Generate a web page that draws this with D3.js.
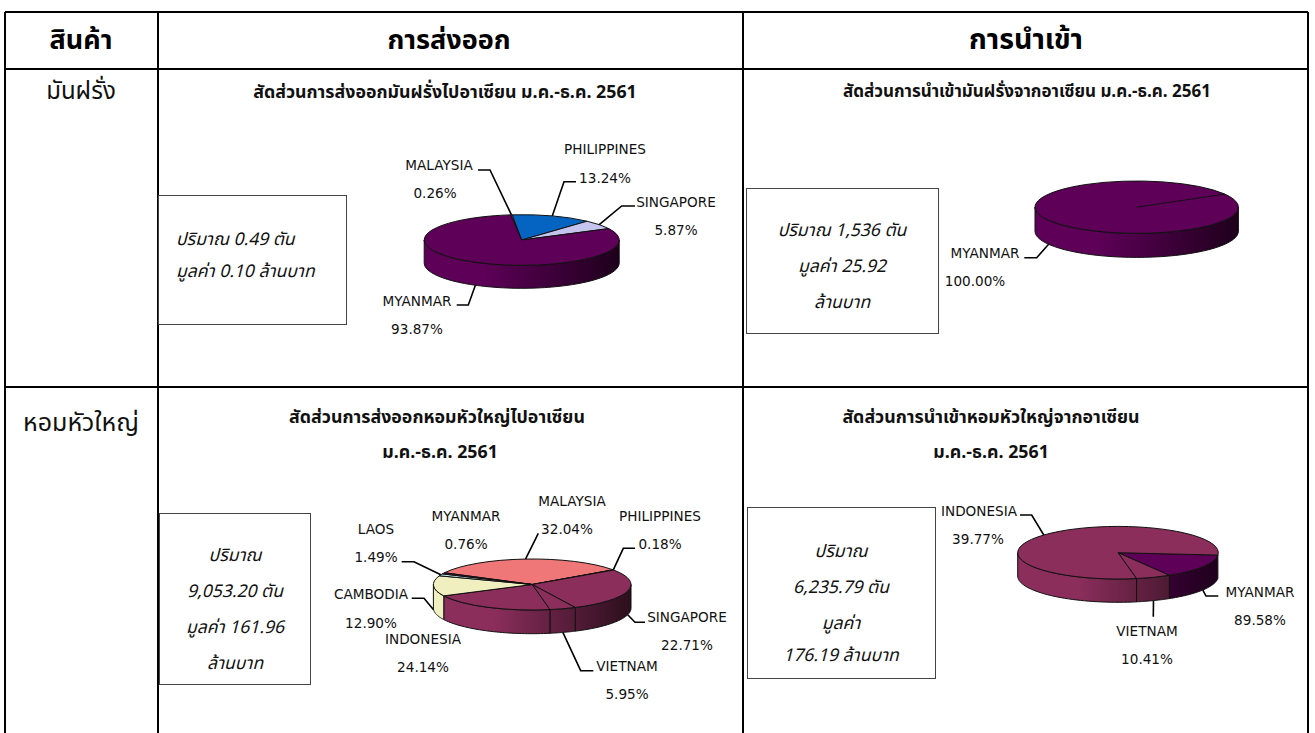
<!DOCTYPE html>
<html>
<head>
<meta charset="utf-8">
<script src="https://cdn.jsdelivr.net/npm/d3@7"></script>
<style>
  html, body { margin: 0; background: #fff; overflow: hidden; }
  text { font-family: Tahoma, "Noto Sans Thai", "Noto Sans", "DejaVu Sans", sans-serif; fill: #111; }
  .head { font-size: 27px; font-weight: bold; fill: #000; }
  .head-wide { font-size: 28.5px; font-weight: bold; fill: #000; }
  .item { font-size: 24px; }
  .item-wide { font-size: 25px; }
  .title { font-size: 17.8px; font-weight: bold; }
  .title-narrow { font-size: 17px; font-weight: bold; }
  .note { font-size: 17.5px; font-style: italic; }
  .lab { font-family: "DejaVu Sans", sans-serif; font-size: 13.6px; }
</style>
</head>
<body>
<svg id="chart" width="1315" height="733"></svg>
<script>
// printed labels do not always agree with the slice sizes, so both are kept
const colors = { myanmar: '#5e0058', maroon: '#8b2e5c', blue: '#0563c1', lilac: '#c4c4ee', salmon: '#f07777', cream: '#efefbf', cyan: '#c6f0f0' };

const exportPotatoCountries = ['MALAYSIA', 'PHILIPPINES', 'SINGAPORE', 'MYANMAR'];
const exportPotatoShares = [0.26, 13.24, 5.87, 80.63];
const exportPotatoLabels = [0.26, 13.24, 5.87, 93.87];
const exportPotatoColors = [colors.salmon, colors.blue, colors.lilac, colors.myanmar];

const importPotatoCountries = ['MYANMAR'];
const importPotatoShares = [100];
const importPotatoLabels = [100];
const importPotatoColors = [colors.myanmar];

const exportOnionCountries = ['MALAYSIA', 'PHILIPPINES', 'SINGAPORE', 'VIETNAM', 'INDONESIA', 'CAMBODIA', 'LAOS', 'MYANMAR'];
const exportOnionShares = [32.6, 0.18, 27.4, 4.3, 20.5, 12.9, 1.3, 0.76];
const exportOnionLabels = [32.04, 0.18, 22.71, 5.95, 24.14, 12.9, 1.49, 0.76];
const exportOnionColors = [colors.salmon, colors.maroon, colors.maroon, colors.maroon, colors.maroon, colors.cream, colors.cyan, colors.myanmar];

const importOnionCountries = ['MYANMAR', 'VIETNAM', 'INDONESIA'];
const importOnionShares = [15, 5.6, 79.4];
const importOnionLabels = [89.58, 10.41, 39.77];
const importOnionColors = [colors.myanmar, colors.maroon, colors.maroon];

const headers = ['สินค้า', 'การส่งออก', 'การนำเข้า'];
const items = ['มันฝรั่ง', 'หอมหัวใหญ่'];

const svg = d3.select('#chart');

// table grid
const grid = svg.append('g').attr('stroke', '#000').attr('stroke-width', 2);
[[5, 12, 1308, 12], [5, 69, 1308, 69], [5, 387, 1308, 387],
  [5, 12, 5, 733], [158, 12, 158, 733], [743, 12, 743, 733], [1308, 12, 1308, 733]].forEach((l) => {
  grid.append('line').attr('x1', l[0]).attr('y1', l[1]).attr('x2', l[2]).attr('y2', l[3]);
});

function centered(x, y, str, cls) {
  svg.append('text').attr('class', cls).attr('x', x).attr('y', y)
    .attr('text-anchor', 'middle').attr('dominant-baseline', 'central').text(str);
}

centered(81, 40, headers[0], 'head');
centered(449, 40, headers[1], 'head');
centered(1026, 40, headers[2], 'head-wide');
centered(81, 92, items[0], 'item');
centered(81, 423, items[1], 'item-wide');

centered(445, 92, 'สัดส่วนการส่งออกมันฝรั่งไปอาเซียน ม.ค.-ธ.ค. 2561', 'title');
centered(1027, 92, 'สัดส่วนการนำเข้ามันฝรั่งจากอาเซียน ม.ค.-ธ.ค. 2561', 'title-narrow');
centered(437, 417, 'สัดส่วนการส่งออกหอมหัวใหญ่ไปอาเซียน', 'title');
centered(440, 452, 'ม.ค.-ธ.ค. 2561', 'title');
centered(991, 417, 'สัดส่วนการนำเข้าหอมหัวใหญ่จากอาเซียน', 'title');
centered(991, 452, 'ม.ค.-ธ.ค. 2561', 'title');

// side note boxes
function noteBox(x, y, w, h, lines, textX, anchor) {
  svg.append('rect').attr('x', x).attr('y', y).attr('width', w).attr('height', h)
    .attr('fill', '#fff').attr('stroke', '#444').attr('stroke-width', 1);
  lines.forEach((l) => {
    svg.append('text').attr('class', 'note').attr('x', textX).attr('y', l[1])
      .attr('text-anchor', anchor).attr('dominant-baseline', 'central').text(l[0]);
  });
}
noteBox(158.5, 195.5, 188, 129, [['ปริมาณ 0.49 ตัน', 239], ['มูลค่า 0.10 ล้านบาท', 271]], 176, 'start');
noteBox(746.5, 188.5, 192, 145, [['ปริมาณ 1,536 ตัน', 230], ['มูลค่า 25.92', 266], ['ล้านบาท', 302]], 842, 'middle');
noteBox(159.5, 513.5, 151, 171, [['ปริมาณ', 555], ['9,053.20 ตัน', 591], ['มูลค่า 161.96', 627], ['ล้านบาท', 663]], 235, 'middle');
noteBox(747.5, 507.5, 188, 171, [['ปริมาณ', 551], ['6,235.79 ตัน', 587], ['มูลค่า', 623], ['176.19 ล้านบาท', 655]], 841, 'middle');

const rad = Math.PI / 180;
let gradId = 0;

function drawPie(o) {
  const slices = d3.pie().sort(null).value((d) => d)
    .startAngle(o.start * rad).endAngle((o.start + 360) * rad)(o.shares);
  const g = svg.append('g');
  const px = (t) => o.cx + o.rx * Math.sin(t);
  const py = (t) => o.cy - o.ry * Math.cos(t);

  // side wall, only the front half shows
  const wall = d3.area().x((t) => px(t)).y0((t) => py(t)).y1((t) => py(t) + o.depth);
  slices.forEach((s, i) => {
    const t0 = Math.max(s.startAngle, Math.PI / 2);
    const t1 = Math.min(s.endAngle, Math.PI * 1.5);
    if (t1 <= t0) return;
    const id = `wall${gradId += 1}`;
    const grad = svg.append('defs').append('linearGradient').attr('id', id)
      .attr('gradientUnits', 'userSpaceOnUse')
      .attr('x1', o.cx - o.rx).attr('x2', o.cx + o.rx).attr('y1', 0).attr('y2', 0);
    const dark = d3.interpolateRgb(o.colors[i], '#000')(0.68);
    grad.append('stop').attr('offset', 0.3).attr('stop-color', o.colors[i]);
    grad.append('stop').attr('offset', 1).attr('stop-color', dark);
    const steps = d3.range(0, 41).map((k) => t0 + (t1 - t0) * k / 40);
    g.append('path').attr('d', wall(steps)).attr('fill', `url(#${id})`)
      .attr('stroke', '#111').attr('stroke-width', 1);
  });

  // top face is a flat d3 arc squashed into an ellipse
  const arc = d3.arc().innerRadius(0).outerRadius(o.rx);
  const top = g.append('g').attr('transform', `translate(${o.cx},${o.cy}) scale(1,${o.ry / o.rx})`);
  top.selectAll('path').data(slices).join('path')
    .attr('d', arc)
    .attr('fill', (d, i) => o.colors[i])
    .attr('stroke', '#111')
    .attr('stroke-width', 1)
    .attr('vector-effect', 'non-scaling-stroke');

  // a full circle has no radial edge of its own
  if (slices.length === 1) {
    g.append('line').attr('x1', o.cx).attr('y1', o.cy)
      .attr('x2', px(slices[0].startAngle)).attr('y2', py(slices[0].startAngle))
      .attr('stroke', '#111').attr('stroke-width', 1);
  }

  // leader lines start at the middle of each slice's rim
  o.countries.forEach((name, i) => {
    const p = o.place[i];
    centered(p.nx, p.ny, name, 'lab');
    centered(p.vx === undefined ? p.nx : p.vx, p.vy, `${o.labels[i].toFixed(2)}%`, 'lab');
    if (!p.leader) return;
    const mid = (slices[i].startAngle + slices[i].endAngle) / 2;
    let a = mid % (2 * Math.PI);
    if (a < 0) a += 2 * Math.PI;
    const front = a > Math.PI / 2 && a < Math.PI * 1.5;
    const pts = [...p.leader, [px(mid), py(mid) + (front ? o.depth : 0)]];
    g.append('path').attr('d', d3.line()(pts)).attr('fill', 'none')
      .attr('stroke', '#000').attr('stroke-width', 1.6);
  });
}

drawPie({
  cx: 521.7, cy: 240, rx: 97.5, ry: 25.3, depth: 23, start: -6.5,
  countries: exportPotatoCountries, shares: exportPotatoShares, labels: exportPotatoLabels, colors: exportPotatoColors,
  place: [
    { nx: 439, ny: 165, vx: 435, vy: 193, leader: [[478, 170], [490, 170]] },
    { nx: 605, ny: 149, vy: 178, leader: [[576, 181.7], [564, 181.7]] },
    { nx: 676, ny: 202, vy: 230, leader: [[635, 206], [621.7, 206]] },
    { nx: 417, ny: 301, vy: 329, leader: [[456.7, 305], [468.3, 305]] },
  ],
});
drawPie({
  cx: 1136.7, cy: 207.2, rx: 101.7, ry: 26.2, depth: 24, start: 60,
  countries: importPotatoCountries, shares: importPotatoShares, labels: importPotatoLabels, colors: importPotatoColors,
  place: [{ nx: 985, ny: 253, vx: 975, vy: 281, leader: [[1024.3, 257.7], [1036.7, 257.7]] }],
});
drawPie({
  cx: 532.2, cy: 584.5, rx: 98.8, ry: 25.5, depth: 23.7, start: -62.6,
  countries: exportOnionCountries, shares: exportOnionShares, labels: exportOnionLabels, colors: exportOnionColors,
  place: [
    { nx: 572, ny: 501, vx: 567, vy: 529, leader: [[538.3, 533.3]] },
    { nx: 660, ny: 516, vy: 544, leader: [[635, 548.3], [623.3, 548.3]] },
    { nx: 687, ny: 617, vy: 645, leader: [[645, 622.3], [635, 622.3]] },
    { nx: 627, ny: 666, vy: 694, leader: [[593.3, 670.7], [580.7, 670.7]] },
    { nx: 423, ny: 639, vy: 667 },
    { nx: 371, ny: 594, vy: 623, leader: [[411.7, 598.3], [424, 598.3]] },
    { nx: 376, ny: 529, vy: 557, leader: [[401.7, 561.7], [414, 561.7]] },
    { nx: 466, ny: 516, vy: 544 },
  ],
});
drawPie({
  cx: 1118, cy: 552.7, rx: 100.3, ry: 26.3, depth: 23.3, start: 95.2,
  countries: importOnionCountries, shares: importOnionShares, labels: importOnionLabels, colors: importOnionColors,
  place: [
    { nx: 1260, ny: 592, vy: 620, leader: [[1218.3, 596], [1206, 596]] },
    { nx: 1147, ny: 631, vy: 659, leader: [[1153.3, 616.7]] },
    { nx: 979, ny: 511, vx: 978, vy: 539, leader: [[1020, 515], [1031.7, 515]] },
  ],
});
</script>
</body>
</html>
